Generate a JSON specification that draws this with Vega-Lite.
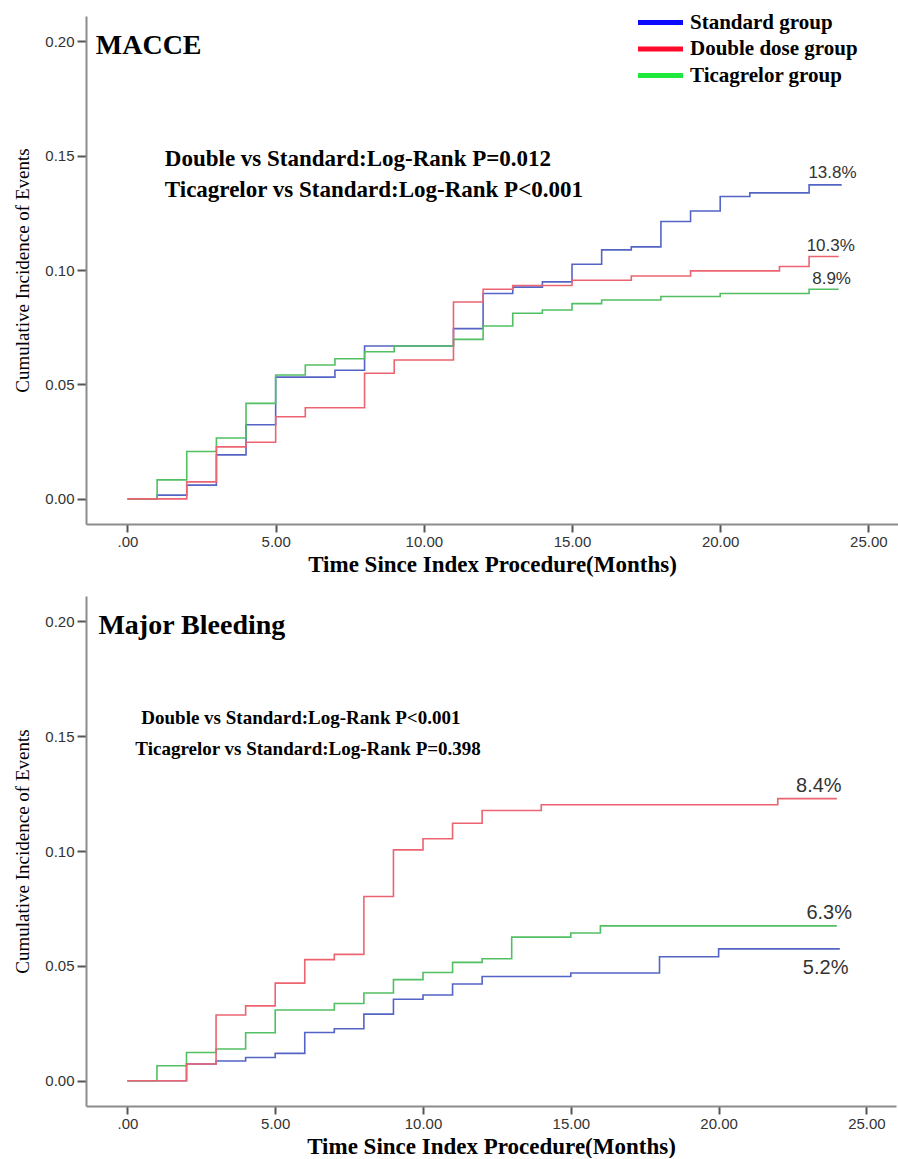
{
  "$schema": "https://vega.github.io/schema/vega-lite/v6.json",
  "background": "white",
  "padding": {"left": 13, "top": 10, "right": 0, "bottom": 0},
  "spacing": 20,
  "config": {
    "view": {"stroke": null},
    "axis": {"grid": false, "domainColor": "#8c8c8c", "domainWidth": 2, "tickColor": "#555555", "tickWidth": 2, "labelFont": "Liberation Sans", "labelFontSize": 15, "labelColor": "#333333", "titleFont": "Liberation Serif", "titleColor": "#000000"},
    "axisX": {"tickSize": 8, "labelPadding": 2, "titleFontSize": 23, "titleFontWeight": "bold", "titlePadding": 4, "labelFlush": false},
    "axisY": {"tickSize": 9, "labelPadding": 3, "titleFontSize": 19, "titleFontWeight": "normal", "titlePadding": 12}
  },
  "datasets": {
    "macce": [
      {"group": "Standard group", "month": 0, "incidence": 0},
      {"group": "Standard group", "month": 1, "incidence": 0.0016},
      {"group": "Standard group", "month": 2, "incidence": 0.006},
      {"group": "Standard group", "month": 3, "incidence": 0.0192},
      {"group": "Standard group", "month": 4, "incidence": 0.0324},
      {"group": "Standard group", "month": 5, "incidence": 0.0532},
      {"group": "Standard group", "month": 7, "incidence": 0.0562},
      {"group": "Standard group", "month": 8, "incidence": 0.0668},
      {"group": "Standard group", "month": 11, "incidence": 0.0744},
      {"group": "Standard group", "month": 12, "incidence": 0.0897},
      {"group": "Standard group", "month": 13, "incidence": 0.0925},
      {"group": "Standard group", "month": 14, "incidence": 0.0948},
      {"group": "Standard group", "month": 15, "incidence": 0.1025},
      {"group": "Standard group", "month": 16, "incidence": 0.1088},
      {"group": "Standard group", "month": 17, "incidence": 0.1101},
      {"group": "Standard group", "month": 18, "incidence": 0.1212},
      {"group": "Standard group", "month": 19, "incidence": 0.1258},
      {"group": "Standard group", "month": 20, "incidence": 0.1321},
      {"group": "Standard group", "month": 21, "incidence": 0.1337},
      {"group": "Standard group", "month": 23, "incidence": 0.1372},
      {"group": "Standard group", "month": 24.1, "incidence": 0.1372},
      {"group": "Ticagrelor group", "month": 0, "incidence": 0},
      {"group": "Ticagrelor group", "month": 1, "incidence": 0.0083},
      {"group": "Ticagrelor group", "month": 2, "incidence": 0.0207},
      {"group": "Ticagrelor group", "month": 3, "incidence": 0.0266},
      {"group": "Ticagrelor group", "month": 4, "incidence": 0.0417},
      {"group": "Ticagrelor group", "month": 5, "incidence": 0.0541},
      {"group": "Ticagrelor group", "month": 6, "incidence": 0.0585},
      {"group": "Ticagrelor group", "month": 7, "incidence": 0.0612},
      {"group": "Ticagrelor group", "month": 8, "incidence": 0.0643},
      {"group": "Ticagrelor group", "month": 9, "incidence": 0.0668},
      {"group": "Ticagrelor group", "month": 11, "incidence": 0.0697},
      {"group": "Ticagrelor group", "month": 12, "incidence": 0.0755},
      {"group": "Ticagrelor group", "month": 13, "incidence": 0.0811},
      {"group": "Ticagrelor group", "month": 14, "incidence": 0.0825},
      {"group": "Ticagrelor group", "month": 15, "incidence": 0.0853},
      {"group": "Ticagrelor group", "month": 16, "incidence": 0.0869},
      {"group": "Ticagrelor group", "month": 18, "incidence": 0.0884},
      {"group": "Ticagrelor group", "month": 20, "incidence": 0.0897},
      {"group": "Ticagrelor group", "month": 23, "incidence": 0.0916},
      {"group": "Ticagrelor group", "month": 24, "incidence": 0.0916},
      {"group": "Double dose group", "month": 0, "incidence": 0},
      {"group": "Double dose group", "month": 2, "incidence": 0.0074},
      {"group": "Double dose group", "month": 3, "incidence": 0.0227},
      {"group": "Double dose group", "month": 4, "incidence": 0.0247},
      {"group": "Double dose group", "month": 5, "incidence": 0.0359},
      {"group": "Double dose group", "month": 6, "incidence": 0.0398},
      {"group": "Double dose group", "month": 8, "incidence": 0.0549},
      {"group": "Double dose group", "month": 9, "incidence": 0.0607},
      {"group": "Double dose group", "month": 11, "incidence": 0.086},
      {"group": "Double dose group", "month": 12, "incidence": 0.0916},
      {"group": "Double dose group", "month": 13, "incidence": 0.0932},
      {"group": "Double dose group", "month": 15, "incidence": 0.0955},
      {"group": "Double dose group", "month": 17, "incidence": 0.0974},
      {"group": "Double dose group", "month": 19, "incidence": 0.0996},
      {"group": "Double dose group", "month": 22, "incidence": 0.1015},
      {"group": "Double dose group", "month": 23, "incidence": 0.1059},
      {"group": "Double dose group", "month": 24, "incidence": 0.1059}
    ],
    "bleeding": [
      {"group": "Standard group", "month": 0, "incidence": 0},
      {"group": "Standard group", "month": 2, "incidence": 0.0073},
      {"group": "Standard group", "month": 3, "incidence": 0.0086},
      {"group": "Standard group", "month": 4, "incidence": 0.0101},
      {"group": "Standard group", "month": 5, "incidence": 0.0119},
      {"group": "Standard group", "month": 6, "incidence": 0.021},
      {"group": "Standard group", "month": 7, "incidence": 0.0226},
      {"group": "Standard group", "month": 8, "incidence": 0.029},
      {"group": "Standard group", "month": 9, "incidence": 0.0355},
      {"group": "Standard group", "month": 10, "incidence": 0.0373},
      {"group": "Standard group", "month": 11, "incidence": 0.0421},
      {"group": "Standard group", "month": 12, "incidence": 0.0454},
      {"group": "Standard group", "month": 15, "incidence": 0.0469},
      {"group": "Standard group", "month": 18, "incidence": 0.054},
      {"group": "Standard group", "month": 20, "incidence": 0.0574},
      {"group": "Standard group", "month": 24.1, "incidence": 0.0574},
      {"group": "Ticagrelor group", "month": 0, "incidence": 0},
      {"group": "Ticagrelor group", "month": 1, "incidence": 0.0065},
      {"group": "Ticagrelor group", "month": 2, "incidence": 0.0123},
      {"group": "Ticagrelor group", "month": 3, "incidence": 0.0138},
      {"group": "Ticagrelor group", "month": 4, "incidence": 0.0209},
      {"group": "Ticagrelor group", "month": 5, "incidence": 0.0308},
      {"group": "Ticagrelor group", "month": 7, "incidence": 0.0336},
      {"group": "Ticagrelor group", "month": 8, "incidence": 0.0382},
      {"group": "Ticagrelor group", "month": 9, "incidence": 0.044},
      {"group": "Ticagrelor group", "month": 10, "incidence": 0.0471},
      {"group": "Ticagrelor group", "month": 11, "incidence": 0.0515},
      {"group": "Ticagrelor group", "month": 12, "incidence": 0.0531},
      {"group": "Ticagrelor group", "month": 13, "incidence": 0.0625},
      {"group": "Ticagrelor group", "month": 15, "incidence": 0.0643},
      {"group": "Ticagrelor group", "month": 16, "incidence": 0.0674},
      {"group": "Ticagrelor group", "month": 24, "incidence": 0.0674},
      {"group": "Double dose group", "month": 0, "incidence": 0},
      {"group": "Double dose group", "month": 2, "incidence": 0.0073},
      {"group": "Double dose group", "month": 3, "incidence": 0.0286},
      {"group": "Double dose group", "month": 4, "incidence": 0.0326},
      {"group": "Double dose group", "month": 5, "incidence": 0.0425},
      {"group": "Double dose group", "month": 6, "incidence": 0.0527},
      {"group": "Double dose group", "month": 7, "incidence": 0.055},
      {"group": "Double dose group", "month": 8, "incidence": 0.0802},
      {"group": "Double dose group", "month": 9, "incidence": 0.1005},
      {"group": "Double dose group", "month": 10, "incidence": 0.1053},
      {"group": "Double dose group", "month": 11, "incidence": 0.1121},
      {"group": "Double dose group", "month": 12, "incidence": 0.1176},
      {"group": "Double dose group", "month": 14, "incidence": 0.1201},
      {"group": "Double dose group", "month": 22, "incidence": 0.1228},
      {"group": "Double dose group", "month": 24, "incidence": 0.1228}
    ]
  },
  "resolve": {"scale": {"color": "independent", "stroke": "independent"}, "legend": {"color": "independent", "stroke": "independent"}},
  "vconcat": [
    {
      "width": 812,
      "height": 508,
      "layer": [
        {
          "data": {"name": "macce"},
          "mark": {"type": "line", "interpolate": "step-after", "strokeWidth": 1.6},
          "encoding": {
            "x": {"field": "month", "type": "quantitative", "scale": {"domain": [-1.4, 26], "nice": false, "zero": false}, "axis": {"values": [0, 5, 10, 15, 20, 25], "labelExpr": "datum.value == 0 ? '.00' : format(datum.value, '.2f')", "title": "Time Since Index Procedure(Months)", "titleFont": "Liberation Serif", "titleFontWeight": "bold", "titleFontSize": 23}},
            "y": {"field": "incidence", "type": "quantitative", "scale": {"domain": [-0.011, 0.211], "nice": false, "zero": false}, "axis": {"values": [0, 0.05, 0.1, 0.15, 0.2], "format": ".2f", "title": "Cumulative Incidence of Events", "titleFont": "Liberation Serif", "titleFontWeight": "normal", "titleFontSize": 19}},
            "color": {
              "field": "group", "type": "nominal",
              "scale": {"domain": ["Standard group", "Ticagrelor group", "Double dose group"], "range": ["#5464c6", "#52bf63", "#ec6470"]},
              "legend": null
            }
          }
        },
        {
          "data": {"values": [
            {"legendGroup": "Standard group"},
            {"legendGroup": "Double dose group"},
            {"legendGroup": "Ticagrelor group"}
          ]},
          "mark": {"type": "line", "strokeWidth": 5},
          "encoding": {
            "stroke": {
              "field": "legendGroup", "type": "nominal",
              "scale": {"domain": ["Standard group", "Double dose group", "Ticagrelor group"], "range": ["#0a0aff", "#ff0a2a", "#1ee83c"]},
              "legend": {
                "orient": "none", "legendX": 562, "legendY": -6, "title": null, "padding": 0,
                "symbolType": "M-2.25,0H2.25", "symbolSize": 400, "symbolStrokeWidth": 5, "symbolOpacity": 1,
                "labelFont": "Liberation Serif", "labelFontSize": 21, "labelFontWeight": "bold", "labelColor": "#000000",
                "labelOffset": 17, "rowPadding": 3.5, "labelLimit": 0
              }
            }
          }
        },
        {
          "data": {"values": [{"month": -1.07, "incidence": 0.1945, "label": "MACCE"}]},
          "mark": {"type": "text", "align": "left", "baseline": "alphabetic", "font": "Liberation Serif", "fontSize": 28, "fontWeight": "bold", "color": "#000000"},
          "encoding": {"x": {"field": "month", "type": "quantitative"}, "y": {"field": "incidence", "type": "quantitative"}, "text": {"field": "label"}}
        },
        {
          "data": {"values": [
            {"month": 1.26, "incidence": 0.1455, "label": "Double vs Standard:Log-Rank P=0.012"},
            {"month": 1.26, "incidence": 0.1317, "label": "Ticagrelor vs Standard:Log-Rank P<0.001"}
          ]},
          "mark": {"type": "text", "align": "left", "baseline": "alphabetic", "font": "Liberation Serif", "fontSize": 23, "fontWeight": "bold", "color": "#000000"},
          "encoding": {"x": {"field": "month", "type": "quantitative"}, "y": {"field": "incidence", "type": "quantitative"}, "text": {"field": "label"}}
        },
        {
          "data": {"values": [
            {"month": 23.79, "incidence": 0.1424, "label": "13.8%"},
            {"month": 23.73, "incidence": 0.1105, "label": "10.3%"},
            {"month": 23.76, "incidence": 0.096, "label": "8.9%"}
          ]},
          "mark": {"type": "text", "align": "center", "baseline": "middle", "font": "Liberation Sans", "fontSize": 17, "color": "#333333"},
          "encoding": {"x": {"field": "month", "type": "quantitative"}, "y": {"field": "incidence", "type": "quantitative"}, "text": {"field": "label"}}
        }
      ]
    },
    {
      "width": 810,
      "height": 510,
      "layer": [
        {
          "data": {"name": "bleeding"},
          "mark": {"type": "line", "interpolate": "step-after", "strokeWidth": 1.6},
          "encoding": {
            "x": {"field": "month", "type": "quantitative", "scale": {"domain": [-1.4, 26], "nice": false, "zero": false}, "axis": {"values": [0, 5, 10, 15, 20, 25], "labelExpr": "datum.value == 0 ? '.00' : format(datum.value, '.2f')", "title": "Time Since Index Procedure(Months)", "titleFont": "Liberation Serif", "titleFontWeight": "bold", "titleFontSize": 23}},
            "y": {"field": "incidence", "type": "quantitative", "scale": {"domain": [-0.011, 0.211], "nice": false, "zero": false}, "axis": {"values": [0, 0.05, 0.1, 0.15, 0.2], "format": ".2f", "title": "Cumulative Incidence of Events", "titleFont": "Liberation Serif", "titleFontWeight": "normal", "titleFontSize": 19}},
            "color": {
              "field": "group", "type": "nominal",
              "scale": {"domain": ["Standard group", "Ticagrelor group", "Double dose group"], "range": ["#5464c6", "#52bf63", "#ec6470"]},
              "legend": null
            }
          }
        },
        {
          "data": {"values": [{"month": -0.98, "incidence": 0.1945, "label": "Major Bleeding"}]},
          "mark": {"type": "text", "align": "left", "baseline": "alphabetic", "font": "Liberation Serif", "fontSize": 28, "fontWeight": "bold", "color": "#000000"},
          "encoding": {"x": {"field": "month", "type": "quantitative"}, "y": {"field": "incidence", "type": "quantitative"}, "text": {"field": "label"}}
        },
        {
          "data": {"values": [
            {"month": 0.47, "incidence": 0.1553, "label": "Double vs Standard:Log-Rank P<0.001"},
            {"month": 0.27, "incidence": 0.1419, "label": "Ticagrelor vs Standard:Log-Rank P=0.398"}
          ]},
          "mark": {"type": "text", "align": "left", "baseline": "alphabetic", "font": "Liberation Serif", "fontSize": 19, "fontWeight": "bold", "color": "#000000"},
          "encoding": {"x": {"field": "month", "type": "quantitative"}, "y": {"field": "incidence", "type": "quantitative"}, "text": {"field": "label"}}
        },
        {
          "data": {"values": [
            {"month": 23.39, "incidence": 0.1281, "label": "8.4%"},
            {"month": 23.74, "incidence": 0.0732, "label": "6.3%"},
            {"month": 23.62, "incidence": 0.049, "label": "5.2%"}
          ]},
          "mark": {"type": "text", "align": "center", "baseline": "middle", "font": "Liberation Sans", "fontSize": 20, "color": "#333333"},
          "encoding": {"x": {"field": "month", "type": "quantitative"}, "y": {"field": "incidence", "type": "quantitative"}, "text": {"field": "label"}}
        }
      ]
    }
  ]
}
